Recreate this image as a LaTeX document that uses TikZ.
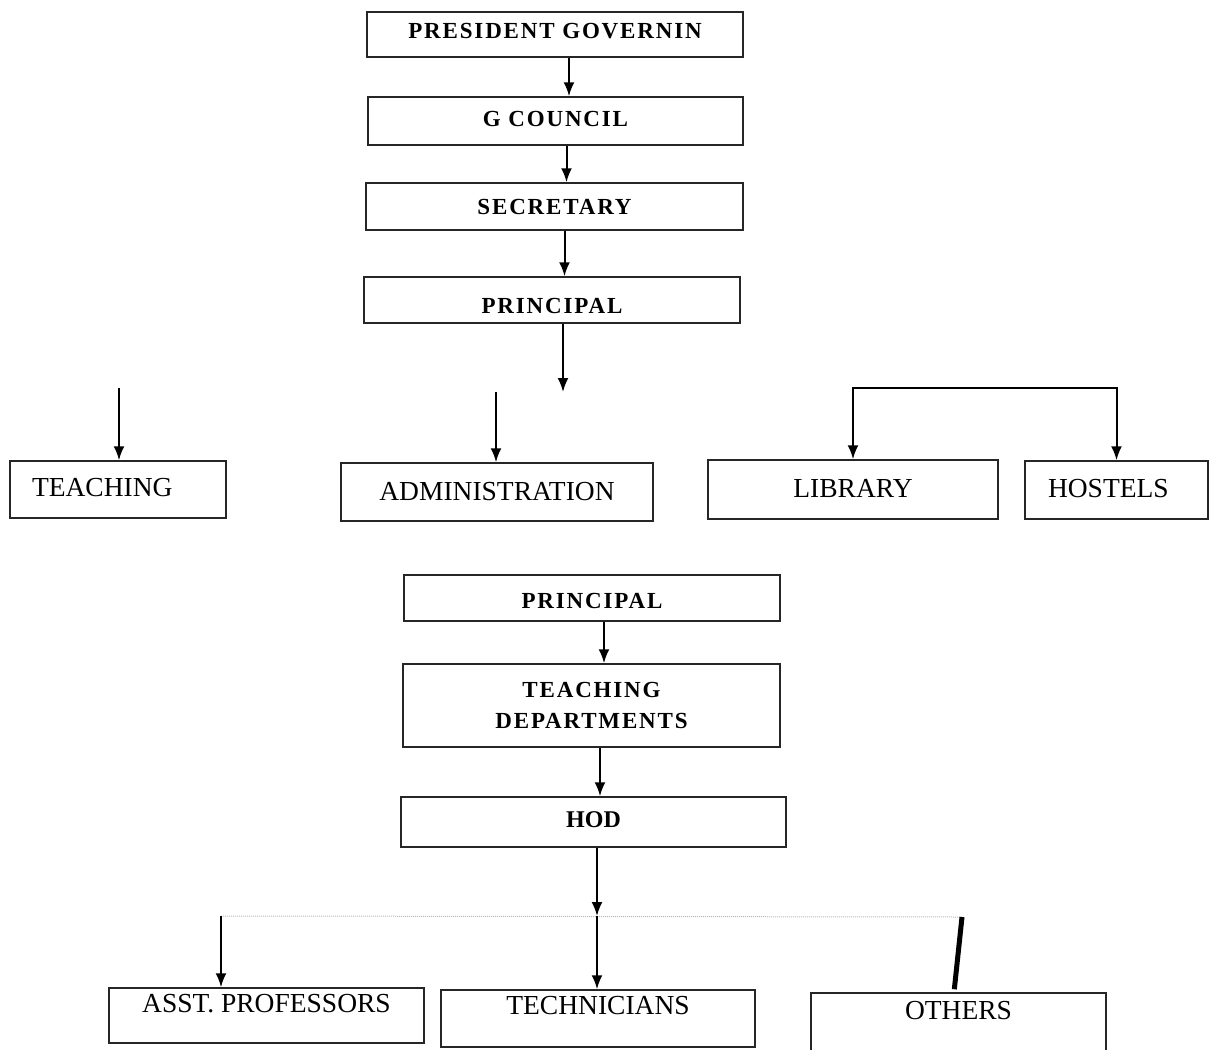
\documentclass[tikz,border=0pt]{standalone}
\usepackage{fontspec}
\setmainfont{Liberation Serif}
\newfontfamily\spacedfont[LetterSpace=8]{Liberation Serif}
\usetikzlibrary{arrows.meta}
\newcommand\plainfont{\fontsize{27.5pt}{30pt}\selectfont}
\newcommand\headfont{\spacedfont\bfseries\fontsize{23pt}{31pt}\selectfont}
\tikzstyle{block} = [rectangle, draw=black!85, line width=1.5pt, inner sep=0pt,
text height=18.2pt, text depth=0pt, font=\plainfont]
\tikzstyle{head} = [block, text height=15.5pt, font=\headfont]
\tikzstyle{line} = [draw, line width=2pt, -{Latex[length=14pt,width=11pt]}]

\begin{document}
\begin{tikzpicture}[x=1pt, y=-1pt]
\useasboundingbox (0,0) rectangle (1209,1049);
% Place nodes
\node [head, minimum width=376pt, minimum height=45pt, text depth=7pt] (pres) at (555,34.5) {PRESIDENT GOVERNIN};
\node [head, minimum width=375pt, minimum height=48pt, text depth=4pt] (gcouncil) at (555.5,121) {G COUNCIL};
\node [head, minimum width=377pt, minimum height=47pt] (secretary) at (554.5,206.5) {SECRETARY};
\node [head, minimum width=376pt, minimum height=46pt, text height=27.5pt] (principal) at (552,300) {PRINCIPAL};
\node [block, minimum height=57pt, text width=172pt, align=left, inner xsep=22pt, text depth=5pt] (teaching) at (118,489.5) {TEACHING};
\node [block, minimum width=312pt, minimum height=58pt, text depth=2pt] (admin) at (497,492) {ADMINISTRATION};
\node [block, minimum width=290pt, minimum height=59pt, text depth=3pt] (library) at (853,489.5) {LIBRARY};
\node [block, minimum height=58pt, text width=137pt, align=left, inner xsep=23pt, text depth=4pt] (hostels) at (1116.5,490) {HOSTELS};
\node [head, minimum width=376pt, minimum height=46pt, text height=21.5pt] (principaltwo) at (592,598) {PRINCIPAL};
\node [head, minimum width=377pt, minimum height=83pt, align=center, text height=46.5pt, text depth=0pt] (teachdept) at (591.5,705.5) {TEACHING\\DEPARTMENTS};
\node [head, minimum width=385pt, minimum height=50pt, text depth=4pt, font=\bfseries\fontsize{24pt}{30pt}\selectfont] (hod) at (593.5,822) {HOD};
\node [block, minimum width=315pt, minimum height=55pt, text depth=25pt] (asst) at (266.5,1015.5) {ASST. PROFESSORS};
\node [block, minimum width=314pt, minimum height=57pt, text depth=27pt] (tech) at (598,1018.5) {TECHNICIANS};
\node [block, minimum width=295pt, minimum height=58pt, text depth=24pt] (others) at (958.5,1022) {OTHERS};
% free ends
\coordinate (pdown) at (563,392);
\coordinate (tin) at (119,388);
\coordinate (adin) at (496,392);
\coordinate (lh) at (985,388);
\coordinate (split) at (597,916);
\coordinate (aleft) at (221,916);
\coordinate (oright) at (962,917);
% connectors
\path [line] ([xshift=14pt]pres.south) -- ([xshift=14pt]pres.south |- gcouncil.north);
\path [line] ([xshift=11pt]gcouncil.south) -- ([xshift=11pt]gcouncil.south |- secretary.north);
\path [line] ([xshift=10pt]secretary.south) -- ([xshift=10pt]secretary.south |- principal.north);
\path [line] ([xshift=11pt]principal.south) -- (pdown);
\path [line] (tin) -- (tin |- teaching.north);
\path [line] (adin) -- (adin |- admin.north);
\path [line] (lh) -| (library.north);
\path [line] (lh) -| (hostels.north);
\path [line] ([xshift=12pt]principaltwo.south) -- ([xshift=12pt]principaltwo.south |- teachdept.north);
\path [line] ([xshift=8.5pt]teachdept.south) -- ([xshift=8.5pt]teachdept.south |- hod.north);
\path [line] ([xshift=3.5pt]hod.south) -- (split);
\draw [gray!55, line width=1pt, densely dotted] (aleft) -- (oright);
\path [line] (split) -- (split |- tech.north);
\path [line] (aleft) -- (aleft |- asst.north);
\draw [line width=5pt, shorten >=3pt] (oright) -- ([xshift=-4.5pt]others.north);
\end{tikzpicture}
\end{document}
